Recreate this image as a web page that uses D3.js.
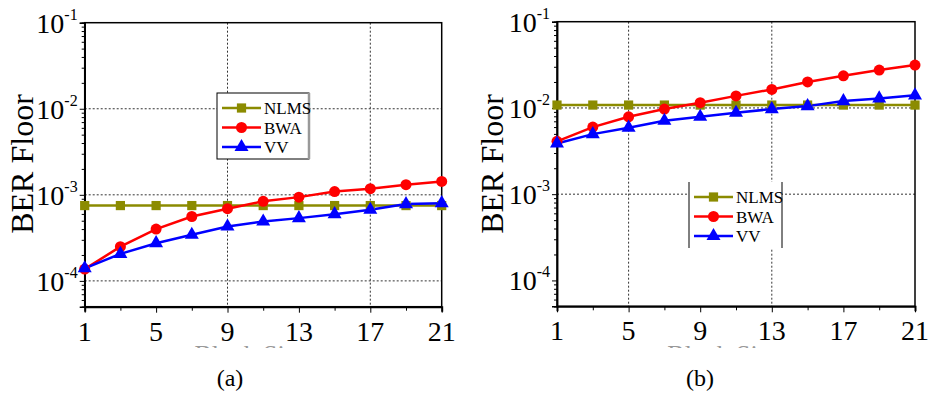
<!DOCTYPE html>
<html>
<head>
<meta charset="utf-8">
<script src="https://cdn.jsdelivr.net/npm/d3@7"></script>
<style>
  body { margin: 0; background: #fff; }
  svg text { font-family: "Liberation Serif", "DejaVu Serif", serif; fill: #000; }
</style>
</head>
<body>
<script>
// block sizes on the x axis
var blockSizes = [1, 3, 5, 7, 9, 11, 13, 15, 17, 19, 21];
var xTickLabels = [1, 5, 9, 13, 17, 21];
var yMajorTicks = [1e-4, 1e-3, 1e-2, 1e-1];
var yExponents = ["-4", "-3", "-2", "-1"];
var seriesNames = ["NLMS", "BWA", "VV"];

// panel (a)
var nlmsA = [7.5e-4, 7.5e-4, 7.5e-4, 7.5e-4, 7.5e-4, 7.5e-4, 7.5e-4, 7.5e-4, 7.5e-4, 7.5e-4, 7.5e-4];
var bwaA = [1.37e-4, 2.5e-4, 4.0e-4, 5.6e-4, 6.9e-4, 8.4e-4, 9.4e-4, 1.09e-3, 1.18e-3, 1.31e-3, 1.43e-3];
var vvA = [1.4e-4, 2.06e-4, 2.74e-4, 3.43e-4, 4.28e-4, 4.9e-4, 5.36e-4, 5.96e-4, 6.7e-4, 7.8e-4, 8.0e-4];

// panel (b)
var nlmsB = [1.08e-2, 1.08e-2, 1.08e-2, 1.08e-2, 1.08e-2, 1.08e-2, 1.08e-2, 1.08e-2, 1.08e-2, 1.08e-2, 1.08e-2];
var bwaB = [4.1e-3, 6.0e-3, 7.9e-3, 9.7e-3, 1.15e-2, 1.38e-2, 1.64e-2, 2.0e-2, 2.36e-2, 2.75e-2, 3.14e-2];
var vvB = [3.87e-3, 4.97e-3, 5.9e-3, 7.1e-3, 7.9e-3, 8.8e-3, 9.7e-3, 1.05e-2, 1.2e-2, 1.29e-2, 1.4e-2];

var colors = ["#8b8b00", "#ff0000", "#0000ff"];

var svg = d3.select("body").append("svg")
  .attr("width", 928)
  .attr("height", 394);

var yMin = Math.pow(10, -4.3);

// minor ticks 2..9 in every decade
var yMinorTicks = [];
[1e-5, 1e-4, 1e-3, 1e-2].forEach(function(d) {
  for (var k = 2; k <= 9; k++) {
    var v = d * k;
    if (v >= yMin && v <= 0.1) yMinorTicks.push(v);
  }
});

function markerPath(kind) {
  if (kind == 0) return d3.symbol().type(d3.symbolSquare).size(85)();
  if (kind == 1) return d3.symbol().type(d3.symbolCircle).size(95)();
  return d3.symbol().type(d3.symbolTriangle).size(85)();
}

function drawPanel(p) {
  var x = d3.scaleLinear().domain([1, 21]).range([p.left, p.right]);
  var y = d3.scaleLog().domain([yMin, 0.1]).range([p.bottom, p.top]);
  var g = svg.append("g");

  // dotted grid
  p.gridX.forEach(function(v) {
    g.append("line")
      .attr("x1", x(v)).attr("x2", x(v))
      .attr("y1", p.top).attr("y2", p.bottom)
      .attr("stroke", "#333").attr("stroke-width", 1)
      .attr("stroke-dasharray", "2,2");
  });
  p.gridY.forEach(function(v) {
    g.append("line")
      .attr("x1", p.left).attr("x2", p.right)
      .attr("y1", y(v)).attr("y2", y(v))
      .attr("stroke", "#333").attr("stroke-width", 1)
      .attr("stroke-dasharray", "2,2");
  });

  // frame
  g.append("rect")
    .attr("x", p.left).attr("y", p.top)
    .attr("width", p.right - p.left).attr("height", p.bottom - p.top)
    .attr("fill", "none").attr("stroke", "#000").attr("stroke-width", 1.5);

  // y axis, major + minor ticks
  g.append("g")
    .attr("transform", "translate(" + p.left + ",0)")
    .call(d3.axisLeft(y).tickValues(yMajorTicks).tickSize(5).tickFormat(""));
  g.append("g")
    .attr("transform", "translate(" + p.left + ",0)")
    .call(d3.axisLeft(y).tickValues(yMinorTicks).tickSize(3).tickFormat(""));
  g.selectAll(".domain").attr("stroke-width", 1.5);

  yMajorTicks.forEach(function(v, i) {
    var t = g.append("text")
      .attr("x", p.left - 7)
      .attr("y", y(v) + 10)
      .attr("text-anchor", "end")
      .style("font-size", "28px");
    t.append("tspan").text("10");
    t.append("tspan").attr("dy", -13).style("font-size", "16px").text(yExponents[i]);
  });

  // x axis
  var xAxis = g.append("g")
    .attr("transform", "translate(0," + p.bottom + ")")
    .call(d3.axisBottom(x).tickValues(blockSizes).tickSize(5).tickFormat(""));
  xAxis.select(".domain").attr("stroke-width", 2);
  xAxis.selectAll(".tick line").attr("y2", function(d) {
    return xTickLabels.indexOf(d) >= 0 ? 6 : 4;
  });
  xTickLabels.forEach(function(v) {
    g.append("text")
      .attr("x", x(v))
      .attr("y", p.bottom + 34)
      .attr("text-anchor", "middle")
      .style("font-size", "28px")
      .text(v);
  });

  // x label, cut off in the original: only the tops of the letters show
  var clipId = "clip" + p.name;
  svg.append("clipPath").attr("id", clipId)
    .append("rect").attr("x", p.left - 40).attr("y", 345)
    .attr("width", p.right - p.left + 80).attr("height", 3);
  g.append("text")
    .attr("clip-path", "url(#" + clipId + ")")
    .attr("x", (p.left + p.right) / 2 - 12)
    .attr("y", 363)
    .attr("text-anchor", "middle")
    .style("font-size", "26px")
    .style("fill", "#999")
    .text("Block Size");

  // y label
  g.append("text")
    .attr("transform", "translate(" + p.ylabX + ",164) rotate(-90)")
    .attr("text-anchor", "middle")
    .style("font-size", "32px")
    .text("BER Floor");

  // caption
  g.append("text")
    .attr("x", p.capX)
    .attr("y", 386)
    .attr("text-anchor", "middle")
    .style("font-size", "24px")
    .text(p.caption);

  // series
  var line = d3.line()
    .x(function(d, i) { return x(blockSizes[i]); })
    .y(function(d) { return y(d); });

  p.series.forEach(function(s, k) {
    g.append("path")
      .datum(s)
      .attr("d", line)
      .attr("fill", "none")
      .attr("stroke", colors[k])
      .attr("stroke-width", 2.5);
  });
  p.series.forEach(function(s, k) {
    g.selectAll(".m" + k)
      .data(s)
      .enter().append("path")
      .attr("class", "m" + k)
      .attr("transform", function(d, i) {
        return "translate(" + x(blockSizes[i]) + "," + y(d) + ")";
      })
      .attr("d", markerPath(k))
      .attr("fill", colors[k]);
  });

  // legend
  var lg = g.append("g");
  lg.append("rect")
    .attr("x", p.leg.x).attr("y", p.leg.y)
    .attr("width", p.leg.w).attr("height", p.leg.h)
    .attr("fill", "#fff").attr("stroke", "none");
  if (p.leg.box) {
    lg.append("rect")
      .attr("x", p.leg.x).attr("y", p.leg.y)
      .attr("width", p.leg.w).attr("height", p.leg.h)
      .attr("fill", "none").attr("stroke", "#000").attr("stroke-width", 1);
    lg.append("line")
      .attr("x1", p.leg.x + p.leg.w).attr("x2", p.leg.x + p.leg.w)
      .attr("y1", p.leg.y).attr("y2", p.leg.y + p.leg.h)
      .attr("stroke", "#999").attr("stroke-width", 2.5);
  } else {
    [p.leg.x, p.leg.x + p.leg.w].forEach(function(lx) {
      lg.append("line")
        .attr("x1", lx).attr("x2", lx)
        .attr("y1", p.leg.y).attr("y2", p.leg.y + p.leg.h)
        .attr("stroke", "#000").attr("stroke-width", 1);
    });
  }
  seriesNames.forEach(function(name, k) {
    var ly = p.leg.y + 15 + k * 19.5;
    lg.append("line")
      .attr("x1", p.leg.x + 5).attr("x2", p.leg.x + 44)
      .attr("y1", ly).attr("y2", ly)
      .attr("stroke", colors[k]).attr("stroke-width", 2.5);
    lg.append("path")
      .attr("transform", "translate(" + (p.leg.x + 24.5) + "," + ly + ")")
      .attr("d", markerPath(k))
      .attr("fill", colors[k]);
    lg.append("text")
      .attr("x", p.leg.x + 47)
      .attr("y", ly + 6)
      .style("font-size", "17px")
      .text(name);
  });
}

drawPanel({
  name: "a", left: 84.7, right: 441.7, top: 22.7, bottom: 306.7,
  gridX: [9, 17], gridY: [1e-2, 1e-3, 1e-4],
  series: [nlmsA, bwaA, vvA],
  leg: { x: 217, y: 93, w: 92, h: 66, box: true },
  ylabX: 33, capX: 230, caption: "(a)"
});

drawPanel({
  name: "b", left: 557, right: 915, top: 21.7, bottom: 306.3,
  gridX: [5, 13], gridY: [1e-2, 1e-3],
  series: [nlmsB, bwaB, vvB],
  leg: { x: 689, y: 182, w: 93, h: 66, box: false },
  ylabX: 503, capX: 700, caption: "(b)"
});
</script>
</body>
</html>
